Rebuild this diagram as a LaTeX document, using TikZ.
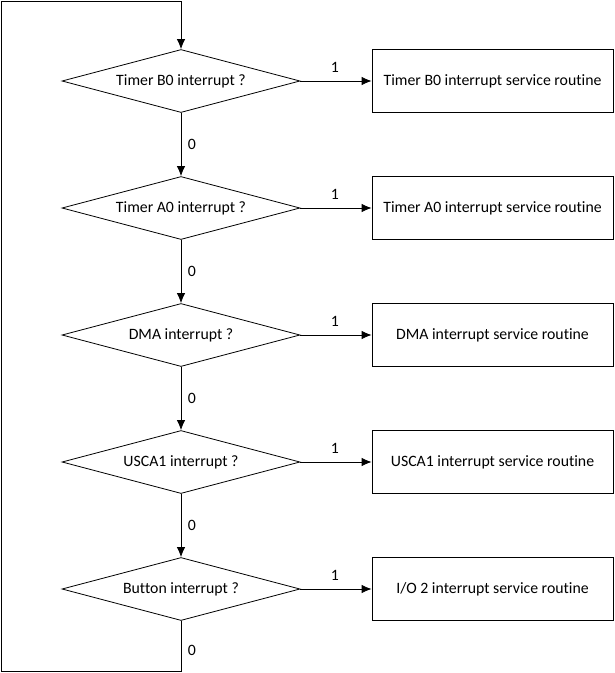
\documentclass[tikz,border=0pt]{standalone}
\usepackage{fontspec}
\setmainfont{Carlito}[Ligatures=NoCommon]
\usetikzlibrary{shapes.geometric,arrows.meta}

\tikzset{
	decision/.style={draw, diamond, aspect=3.78, inner sep=0pt, minimum width=238pt, minimum height=63pt, line width=0.8pt},
	isrbox/.style={draw, rectangle, minimum width=241pt, minimum height=63pt, inner sep=0pt, line width=0.8pt},
	flow/.style={line width=0.8pt, -{Latex[length=10pt,width=8.5pt]}},
	edgelabel/.style={inner sep=0pt}
}

\begin{document}
\begin{tikzpicture}[x=1pt, y=1pt, font=\fontsize{15.8}{18}\selectfont]
			%%%%% START %%%%%
			
			\useasboundingbox (0, 0) rectangle (615, -673);
			
			\node[decision] (timerb) at (181, -81) {Timer B0 interrupt ?};
			\node[decision] (timera) at (181, -208) {Timer A0 interrupt ?};
			\node[decision] (dma) at (181, -335) {DMA interrupt ?};
			\node[decision] (usca) at (181, -462) {USCA1 interrupt ?};
			\node[decision] (button) at (181, -589) {Button interrupt ?};
			
			\node[isrbox] (timerbisr) at (492.5, -81) {Timer B0 interrupt service routine};
			\node[isrbox] (timeraisr) at (492.5, -208) {Timer A0 interrupt service routine};
			\node[isrbox] (dmaisr) at (492.5, -335) {DMA interrupt service routine};
			\node[isrbox] (uscaisr) at (492.5, -462) {USCA1 interrupt service routine};
			\node[isrbox] (buttonisr) at (492.5, -589) {I/O 2 interrupt service routine};
			
			\draw[flow] (timerb) -- (timerbisr);
			\draw[flow] (timera) -- (timeraisr);
			\draw[flow] (dma) -- (dmaisr);
			\draw[flow] (usca) -- (uscaisr);
			\draw[flow] (button) -- (buttonisr);
			
			\draw[flow] (timerb) -- (timera);
			\draw[flow] (timera) -- (dma);
			\draw[flow] (dma) -- (usca);
			\draw[flow] (usca) -- (button);
			
			\coordinate (loopbottom) at (181, -671);
			\coordinate (loopleft) at (1, -671);
			\coordinate (looptop) at (1, -1);
			\coordinate (loopentry) at (181, -1);
			\draw[flow] (button.south) -- (loopbottom) -- (loopleft) -- (looptop) -- (loopentry) -- (timerb.north);
			
			\node[edgelabel] (one1) at (335, -67) {1};
			\node[edgelabel] (one2) at (335, -194) {1};
			\node[edgelabel] (one3) at (335, -321) {1};
			\node[edgelabel] (one4) at (335, -448) {1};
			\node[edgelabel] (one5) at (335, -575) {1};
			
			\node[edgelabel] (zero1) at (192, -144) {0};
			\node[edgelabel] (zero2) at (192, -271) {0};
			\node[edgelabel] (zero3) at (192, -398) {0};
			\node[edgelabel] (zero4) at (192, -525) {0};
			\node[edgelabel] (zero5) at (192, -650) {0};
			
			%%%%% END %%%%%
\end{tikzpicture}
\end{document}
